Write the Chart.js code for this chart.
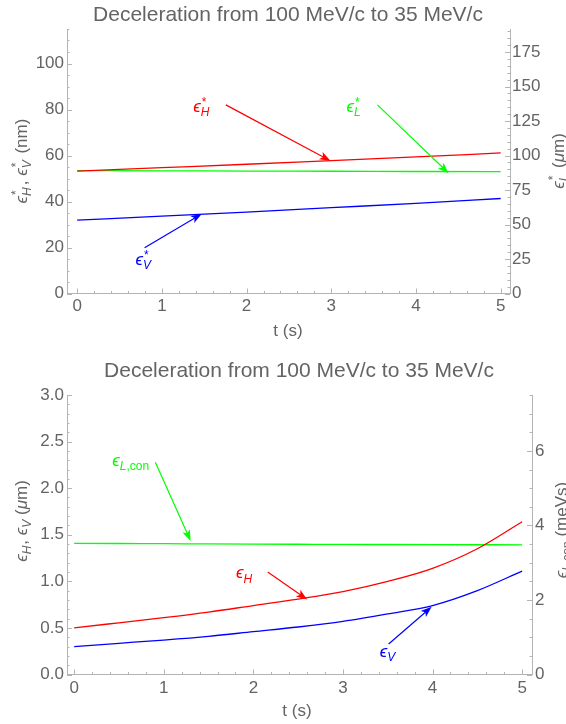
<!DOCTYPE html>
<html>
<head>
<meta charset="utf-8">
<script src="https://cdn.jsdelivr.net/npm/chart.js@4.4.1/dist/chart.umd.min.js"></script>
<style>
html, body { margin: 0; padding: 0; background: #fff; }
canvas { position: absolute; left: 0; }
#top { top: 0; }
#bot { top: 350px; }
</style>
</head>
<body>
<canvas id="top" width="566" height="350"></canvas>
<canvas id="bot" width="566" height="374"></canvas>
<script>
// ---- data ----
var plotTitle = "Deceleration from 100 MeV/c to 35 MeV/c";

// top: normalised emittances
var t_top = [0, 1, 2, 3, 4, 5];
var epsH_n = [53.2, 54.7, 56.2, 57.8, 59.4, 61.1];   // nm
var epsV_n = [31.9, 33.6, 35.4, 37.3, 39.2, 41.3];   // nm
var epsL_n = [89.0, 88.9, 88.7, 88.6, 88.4, 88.3];   // um
var top_xticks = [0, 1, 2, 3, 4, 5];
var top_yticks = [0, 20, 40, 60, 80, 100];
var top_y2ticks = [0, 25, 50, 75, 100, 125, 150, 175];

// bottom: geometric emittances
var t_bot = [0, 0.5, 1, 1.5, 2, 2.5, 3, 3.5, 4, 4.5, 5];
var epsH = [0.50, 0.555, 0.61, 0.67, 0.74, 0.81, 0.89, 1.00, 1.14, 1.35, 1.64];   // um
var epsV = [0.30, 0.335, 0.37, 0.41, 0.46, 0.51, 0.57, 0.65, 0.74, 0.90, 1.11];   // um
var epsLcon = [3.52, 3.515, 3.51, 3.505, 3.50, 3.495, 3.49, 3.488, 3.485, 3.482, 3.48]; // meVs
var bot_xticks = [0, 1, 2, 3, 4, 5];
var bot_yticks = [0, 0.5, 1.0, 1.5, 2.0, 2.5, 3.0];
var bot_y2ticks = [0, 2, 4, 6];

// arrow labels, in data units of left axis: [label x, label y, tail x, tail y, tip x, tip y]
var top_arrH = [1.37, 78.9, 1.755, 82.0, 2.99, 57.7];
var top_arrL = [3.18, 78.9, 3.545, 82.0, 4.385, 52.3];
var top_arrV = [0.69, 12.4, 0.796, 19.9, 1.47, 34.6];
var bot_arrL = [0.426, 2.235, 0.906, 2.278, 1.30, 1.434];
var bot_arrH = [1.807, 1.031, 2.16, 1.099, 2.60, 0.806];
var bot_arrV = [3.41, 0.191, 3.51, 0.327, 3.99, 0.727];

var RED = '#ff0000', GREEN = '#00ff00', BLUE = '#0000ff';
var FONT = "'Liberation Sans', 'DejaVu Sans', Arial, sans-serif";
var TXT = '#646464';
var AXC = '#b4b4b4';

function fnt(size, it) { return (it ? 'italic ' : '') + size + 'px ' + FONT; }

// rich text with sub/superscripts; x = left, y = baseline
function rich(ctx, parts, x, y, size, draw) {
    var sm = Math.round(size * 0.72);
    parts.forEach(function (p) {
        if (typeof p === 'string') p = { t: p };
        if (p.gap) { x += p.gap; return; }
        var s = p.lvl ? sm : size;
        var dy = p.lvl === 'sub' ? size * 0.24 : (p.lvl === 'sup' ? -size * 0.36 : 0);
        ctx.font = fnt(s, p.it);
        if (draw) ctx.fillText(p.t, x + (p.lvl === 'sup' ? 1 : 0), y + dy);
        if (!p.hold) x += ctx.measureText(p.t).width;
    });
    return x;
}

function richCentered(ctx, parts, cx, cy, size, color, rot) {
    ctx.save();
    ctx.fillStyle = color;
    ctx.textAlign = 'left';
    ctx.textBaseline = 'alphabetic';
    var w = rich(ctx, parts, 0, 0, size, false);
    ctx.translate(cx, cy);
    if (rot) ctx.rotate(rot);
    rich(ctx, parts, -w / 2, size * 0.33, size, true);
    ctx.restore();
}

function arrow(ctx, x1, y1, x2, y2, color) {
    var a = Math.atan2(y2 - y1, x2 - x1), L = 11, W = 4;
    var c = Math.cos(a), s = Math.sin(a);
    var bx = x2 - L * c, by = y2 - L * s;
    ctx.save();
    ctx.strokeStyle = color;
    ctx.fillStyle = color;
    ctx.lineWidth = 1.2;
    ctx.beginPath();
    ctx.moveTo(x1, y1);
    ctx.lineTo(x2 - 6 * c, y2 - 6 * s);
    ctx.stroke();
    ctx.beginPath();
    ctx.moveTo(x2, y2);
    ctx.lineTo(bx - W * s, by + W * c);
    ctx.lineTo(x2 - 0.75 * L * c, y2 - 0.75 * L * s);
    ctx.lineTo(bx + W * s, by - W * c);
    ctx.closePath();
    ctx.fill();
    ctx.restore();
}

function frameTicks(ctx, scale, major, minorStep, side, area) {
    var lo = Math.max(scale.min, 0), hi = scale.max;
    ctx.save();
    ctx.strokeStyle = AXC;
    ctx.lineWidth = 1;
    var n = Math.round((hi - lo) / minorStep);
    for (var i = 0; i <= n; i++) {
        var v = lo + i * minorStep;
        if (v > hi + 1e-9) break;
        var isMajor = major.some(function (m) { return Math.abs(m - v) < 1e-6; });
        var len = isMajor ? 5 : 2.5;
        var p = Math.round(scale.getPixelForValue(v)) + 0.5;
        ctx.beginPath();
        if (side === 'bottom') { ctx.moveTo(p, area.bottom); ctx.lineTo(p, area.bottom - len); }
        if (side === 'left') { ctx.moveTo(area.left, p); ctx.lineTo(area.left + len, p); }
        if (side === 'right') { ctx.moveTo(area.right, p); ctx.lineTo(area.right - len, p); }
        ctx.stroke();
    }
    ctx.restore();
}

function pts(xs, ys) { return xs.map(function (x, i) { return { x: x, y: ys[i] }; }); }

function line(data, color, axis) {
    return {
        data: data, borderColor: color, borderWidth: 1.3, pointRadius: 0,
        fill: false, yAxisID: axis, cubicInterpolationMode: 'monotone'
    };
}

function makeChart(id, o) {
    var canvas = document.getElementById(id);
    var W = canvas.width, H = canvas.height;
    var tickFont = { family: FONT, size: 17 };

    var decor = {
        id: 'decor_' + id,
        afterDraw: function (chart) {
            var ctx = chart.ctx, a = chart.chartArea;
            var sx = chart.scales.x, sy = chart.scales.y, sy2 = chart.scales.y2;
            frameTicks(ctx, sx, o.xticks, o.xminor, 'bottom', a);
            frameTicks(ctx, sy, o.yticks, o.yminor, 'left', a);
            frameTicks(ctx, sy2, o.y2ticks, o.y2minor, 'right', a);

            o.arrows.forEach(function (ar) {
                var d = ar.d;
                arrow(ctx, sx.getPixelForValue(d[2]), sy.getPixelForValue(d[3]),
                    sx.getPixelForValue(d[4]), sy.getPixelForValue(d[5]), ar.color);
                ctx.save();
                ctx.fillStyle = ar.color;
                ctx.textBaseline = 'alphabetic';
                rich(ctx, ar.label, sx.getPixelForValue(d[0]), sy.getPixelForValue(d[1]), 17, true);
                ctx.restore();
            });

            ctx.save();
            ctx.fillStyle = TXT;
            ctx.textAlign = 'center';
            ctx.textBaseline = 'middle';
            ctx.font = fnt(21, false);
            ctx.fillText(plotTitle, o.titlePos[0], o.titlePos[1]);
            ctx.font = fnt(17, false);
            ctx.fillText('t (s)', o.xTitlePos[0], o.xTitlePos[1]);
            ctx.restore();
            richCentered(ctx, o.yTitle, o.yTitlePos[0], o.yTitlePos[1], 17, TXT, -Math.PI / 2);
            richCentered(ctx, o.y2Title, o.y2TitlePos[0], o.y2TitlePos[1], 17, TXT, -Math.PI / 2);
        }
    };

    function setTicks(arr) {
        return function (s) { s.ticks = arr.map(function (v) { return { value: v }; }); };
    }

    return new Chart(canvas, {
        type: 'line',
        data: { datasets: o.datasets },
        options: {
            responsive: false,
            devicePixelRatio: 1,
            animation: false,
            events: [],
            layout: { padding: { top: o.area.top, left: 0, right: 0, bottom: 0 } },
            plugins: { legend: { display: false }, tooltip: { enabled: false }, title: { display: false } },
            scales: {
                x: {
                    type: 'linear', min: o.xmin, max: o.xmax,
                    grid: { display: false, drawTicks: false },
                    border: { display: true, color: AXC, width: 1 },
                    afterBuildTicks: setTicks(o.xticks),
                    ticks: { color: TXT, font: tickFont, padding: o.xpad, autoSkip: false, maxRotation: 0,
                        callback: function (v) { return String(v); } },
                    afterFit: function (s) { s.height = H - o.area.bottom; s.paddingLeft = 0; s.paddingRight = 0; }
                },
                y: {
                    type: 'linear', position: 'left', min: 0, max: o.ymax,
                    grid: { display: false, drawTicks: false },
                    border: { display: true, color: AXC, width: 1 },
                    afterBuildTicks: setTicks(o.yticks),
                    ticks: { color: TXT, font: tickFont, padding: 3, autoSkip: false, callback: o.yfmt },
                    afterFit: function (s) { s.width = o.area.left; s.paddingTop = 0; s.paddingBottom = 0; }
                },
                y2: {
                    type: 'linear', position: 'right', min: 0, max: o.y2max,
                    grid: { display: false, drawTicks: false },
                    border: { display: true, color: AXC, width: 1 },
                    afterBuildTicks: setTicks(o.y2ticks),
                    ticks: { color: TXT, font: tickFont, padding: o.y2pad, autoSkip: false,
                        callback: function (v) { return String(v); } },
                    afterFit: function (s) { s.width = W - o.area.right; s.paddingTop = 0; s.paddingBottom = 0; }
                }
            }
        },
        plugins: [decor]
    });
}

var eps = { t: '\u03f5', it: 1 };

makeChart('top', {
    area: { left: 67, right: 510, top: 29, bottom: 293.5 },
    xmin: -0.12, xmax: 5.11, ymax: 115, y2max: 115 * 5 / 3,
    xticks: top_xticks, yticks: top_yticks, y2ticks: top_y2ticks,
    xminor: 0.2, yminor: 5, y2minor: 5,
    xpad: 3, y2pad: 2,
    yfmt: function (v) { return String(v); },
    datasets: [
        line(pts(t_top, epsH_n), RED, 'y'),
        line(pts(t_top, epsV_n), BLUE, 'y'),
        line(pts(t_top, epsL_n), GREEN, 'y2')
    ],
    arrows: [
        { d: top_arrH, color: RED, label: [eps, { t: '*', lvl: 'sup', hold: 1 }, { t: 'H', it: 1, lvl: 'sub' }] },
        { d: top_arrL, color: GREEN, label: [eps, { t: '*', lvl: 'sup', hold: 1 }, { t: 'L', it: 1, lvl: 'sub' }] },
        { d: top_arrV, color: BLUE, label: [eps, { t: '*', lvl: 'sup', hold: 1 }, { t: 'V', it: 1, lvl: 'sub' }] }
    ],
    titlePos: [288, 15],
    xTitlePos: [288, 331.5],
    yTitle: [eps, { t: '*', lvl: 'sup', hold: 1 }, { t: 'H', it: 1, lvl: 'sub' }, { gap: 2 }, ', ',
        eps, { t: '*', lvl: 'sup', hold: 1 }, { t: 'V', it: 1, lvl: 'sub' }, { gap: 2 }, ' (nm)'],
    yTitlePos: [21, 161],
    y2Title: [eps, { t: '*', lvl: 'sup', hold: 1 }, { t: 'L', it: 1, lvl: 'sub' }, { gap: 2 }, ' (', { t: '\u03bc', it: 1 }, 'm)'],
    y2TitlePos: [558, 161]
});

makeChart('bot', {
    area: { left: 67, right: 532, top: 45, bottom: 324.5 },
    xmin: -0.08, xmax: 5.11, ymax: 3.0, y2max: 7.5,
    xticks: bot_xticks, yticks: bot_yticks, y2ticks: bot_y2ticks,
    xminor: 0.2, yminor: 0.1, y2minor: 0.5,
    xpad: 3.5, y2pad: 3,
    yfmt: function (v) { return v.toFixed(1); },
    datasets: [
        line(pts(t_bot, epsH), RED, 'y'),
        line(pts(t_bot, epsV), BLUE, 'y'),
        line(pts(t_bot, epsLcon), GREEN, 'y2')
    ],
    arrows: [
        { d: bot_arrL, color: GREEN, label: [eps, { t: 'L', it: 1, lvl: 'sub' }, { t: ',con', lvl: 'sub' }] },
        { d: bot_arrH, color: RED, label: [eps, { t: 'H', it: 1, lvl: 'sub' }] },
        { d: bot_arrV, color: BLUE, label: [eps, { t: 'V', it: 1, lvl: 'sub' }] }
    ],
    titlePos: [299, 21.7],
    xTitlePos: [297, 361.7],
    yTitle: [eps, { t: 'H', it: 1, lvl: 'sub' }, { gap: 1 }, ', ', eps, { t: 'V', it: 1, lvl: 'sub' }, ' (', { t: '\u03bc', it: 1 }, 'm)'],
    yTitlePos: [21, 171],
    y2Title: [eps, { t: 'L', it: 1, lvl: 'sub' }, { t: ',con', lvl: 'sub' }, ' (meVs)'],
    y2TitlePos: [561, 180]
});
</script>
</body>
</html>
